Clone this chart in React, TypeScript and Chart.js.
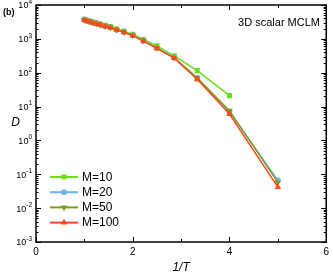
import React, { useEffect, useRef } from 'react';
import { Chart, registerables } from 'chart.js';

Chart.register(...registerables);

// ---- data ----
const invT = [1.0, 1.053, 1.111, 1.176, 1.25, 1.333, 1.429, 1.538, 1.667, 1.818, 2.0, 2.222, 2.5, 2.857, 3.333, 4.0, 5.0];
const seriesLabels = ['M=10', 'M=20', 'M=50', 'M=100'];
const dM10 = [3800, 3560, 3360, 3160, 2960, 2760, 2520, 2320, 1960, 1690, 1360, 960, 620, 316, 115, 21];
const dM20 = [3650, 3420, 3220, 3020, 2820, 2610, 2370, 2190, 1860, 1590, 1280, 880, 540, 280, 70, 7.0, 0.066];
const dM50 = [3640, 3410, 3210, 3010, 2810, 2600, 2360, 2180, 1850, 1580, 1270, 875, 535, 276, 69, 7.6, 0.058];
const dM100 = [3600, 3380, 3180, 2980, 2780, 2580, 2330, 2150, 1830, 1560, 1250, 860, 525, 268, 64, 6.0, 0.042];
const xTickValues = [0, 1, 2, 3, 4, 5, 6];
const xLabelValues = [0, 2, 4, 6];
const yExponents = [-3, -2, -1, 0, 1, 2, 3, 4];
const titleText = '(b)';
const noteText = '3D scalar MCLM';
const xTitle = '1/T';
const yTitle = 'D';

const colors = ['#6CDE1E', '#72B2EA', '#7C9C1C', '#FF4A1C'];
const pointStyles = ['rect', 'circle', 'triangle', 'triangle'];
const rotations = [0, 0, 180, 0];
const radii = [3.6, 3, 3.8, 3.8];
const seriesValues = [dM10, dM20, dM50, dM100];

const FONT = '"Liberation Sans", Arial, sans-serif';

function drawMarker(ctx: CanvasRenderingContext2D, style: string, rot: number, x: number, y: number, r: number, color: string) {
  ctx.save();
  ctx.fillStyle = color;
  ctx.beginPath();
  if (style === 'rect') {
    const s = Math.SQRT1_2 * r;
    ctx.rect(x - s, y - s, 2 * s, 2 * s);
  } else if (style === 'circle') {
    ctx.arc(x, y, r, 0, Math.PI * 2);
  } else {
    ctx.translate(x, y);
    ctx.rotate((rot * Math.PI) / 180);
    const rad = (Math.PI / 180) * -90;
    ctx.moveTo(Math.cos(rad) * r, Math.sin(rad) * r);
    const r2 = rad + (2 * Math.PI) / 3;
    ctx.lineTo(Math.cos(r2) * r, Math.sin(r2) * r);
    const r3 = r2 + (2 * Math.PI) / 3;
    ctx.lineTo(Math.cos(r3) * r, Math.sin(r3) * r);
    ctx.closePath();
  }
  ctx.fill();
  ctx.restore();
}

const decorPlugin = {
  id: 'decor',
  afterDraw(chart: any) {
    const ctx: CanvasRenderingContext2D = chart.ctx;
    const { left, right, top, bottom } = chart.chartArea;
    const xs = chart.scales.x;
    const ys = chart.scales.y;
    ctx.save();
    ctx.strokeStyle = '#000';
    ctx.lineWidth = 1.5;
    ctx.strokeRect(left, top, right - left, bottom - top);

    ctx.lineWidth = 1;
    ctx.beginPath();
    // x ticks
    xTickValues.forEach((v) => {
      const px = Math.round(xs.getPixelForValue(v)) + 0.5;
      const len = v % 2 === 0 ? 5 : 3;
      ctx.moveTo(px, bottom);
      ctx.lineTo(px, bottom - len);
      ctx.moveTo(px, top);
      ctx.lineTo(px, top + len);
    });
    // y ticks
    yExponents.forEach((e) => {
      const major = Math.pow(10, e);
      const py = Math.round(ys.getPixelForValue(major)) + 0.5;
      ctx.moveTo(left, py);
      ctx.lineTo(left + 5, py);
      ctx.moveTo(right, py);
      ctx.lineTo(right - 5, py);
      if (e < 4) {
        for (let k = 2; k <= 9; k++) {
          const my = Math.round(ys.getPixelForValue(k * major)) + 0.5;
          ctx.moveTo(left, my);
          ctx.lineTo(left + 2.5, my);
          ctx.moveTo(right, my);
          ctx.lineTo(right - 2.5, my);
        }
      }
    });
    ctx.stroke();

    // y labels
    ctx.fillStyle = '#000';
    ctx.textBaseline = 'middle';
    yExponents.forEach((e) => {
      const py = ys.getPixelForValue(Math.pow(10, e)) + 1;
      ctx.font = `6.5px ${FONT}`;
      const expText = String(e).replace('-', '-');
      const ew = ctx.measureText(expText).width;
      ctx.textAlign = 'left';
      const xr = left - 4;
      ctx.fillText(expText, xr - ew, py - 4);
      ctx.font = `9px ${FONT}`;
      ctx.textAlign = 'right';
      ctx.fillText('10', xr - ew, py);
    });

    // texts
    ctx.font = `bold 9px ${FONT}`;
    ctx.textAlign = 'left';
    ctx.fillText(titleText, 3, 13);
    ctx.font = `11px ${FONT}`;
    ctx.textAlign = 'right';
    ctx.fillText(noteText, 320, 22.5);
    ctx.font = `italic 12px ${FONT}`;
    ctx.textAlign = 'center';
    ctx.fillText(xTitle, (left + right) / 2, 268);
    ctx.fillText(yTitle, 15.5, 122.5);

    // legend
    seriesLabels.forEach((lab, i) => {
      const y = 177 + i * 15.2;
      ctx.strokeStyle = colors[i];
      ctx.lineWidth = 2;
      ctx.beginPath();
      ctx.moveTo(50, y);
      ctx.lineTo(78, y);
      ctx.stroke();
      drawMarker(ctx, pointStyles[i], rotations[i], 64, y, radii[i], colors[i]);
      ctx.fillStyle = '#000';
      ctx.font = `12px ${FONT}`;
      ctx.textAlign = 'left';
      ctx.fillText(lab, 82, y + 0.5);
    });
    ctx.restore();
  },
};

export default function App() {
  const ref = useRef<HTMLCanvasElement | null>(null);
  useEffect(() => {
    document.body.style.margin = '0';
    if (!ref.current) return;
    const datasets = seriesValues.map((vals, i) => ({
      label: seriesLabels[i],
      data: vals.map((v, j) => ({ x: invT[j], y: v })),
      borderColor: colors[i],
      backgroundColor: colors[i],
      borderWidth: 1.5,
      pointStyle: pointStyles[i] as any,
      pointRotation: rotations[i],
      pointRadius: radii[i],
      pointBorderWidth: 0,
      tension: 0,
      order: 3 - i,
    }));
    const chart = new Chart(ref.current, {
      type: 'line',
      data: { datasets },
      options: {
        animation: false,
        responsive: false,
        layout: { padding: { left: 0, right: 3, top: 5, bottom: 0 } },
        plugins: { legend: { display: false }, tooltip: { enabled: false } },
        scales: {
          x: {
            type: 'linear',
            min: 0,
            max: 6,
            grid: { display: false, drawTicks: false },
            border: { display: false },
            afterBuildTicks: (s: any) => {
              s.ticks = xLabelValues.map((v) => ({ value: v }));
            },
            afterFit: (s: any) => {
              s.height = 32;
            },
            ticks: { color: '#000', font: { family: FONT, size: 10 }, padding: 4, maxRotation: 0 },
          },
          y: {
            type: 'logarithmic',
            min: 1e-3,
            max: 1e4,
            grid: { display: false, drawTicks: false },
            border: { display: false },
            ticks: { display: false },
            afterBuildTicks: (s: any) => {
              s.ticks = yExponents.map((e) => ({ value: Math.pow(10, e) }));
            },
            afterFit: (s: any) => {
              s.width = 36;
            },
          },
        },
      },
      plugins: [decorPlugin],
    });
    return () => chart.destroy();
  }, []);
  return <canvas ref={ref} width={333} height={274} style={{ display: 'block' }} />;
}
